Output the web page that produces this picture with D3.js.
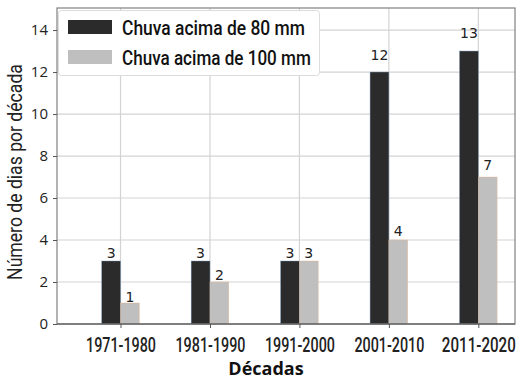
<!DOCTYPE html>
<html><head><meta charset="utf-8">
<script src="https://cdn.jsdelivr.net/npm/d3@7"></script>
<style>body{margin:0;background:#fff;}</style></head>
<body><svg id="c" width="531" height="381"></svg>
<script>
const decades = ["1971-1980","1981-1990","1991-2000","2001-2010","2011-2020"];
const above80 = [3,3,3,12,13];
const above100 = [1,2,3,4,7];
const yTicks = [0,2,4,6,8,10,12,14];
const seriesNames = ["Chuva acima de 80 mm","Chuva acima de 100 mm"];
const colors = ["#2b2b2b","#bfbfbf"];
const edgeColors = ["#7393b3","#e6b48c"];

const svg = d3.select("#c");
const L=57,R=515,T=8,B=324;
const x = d3.scaleLinear().domain([-0.71,4.41]).range([L,R]);
const y = d3.scaleLinear().domain([0,15.05]).range([B,T]);
const bw = 0.21;

// squeeze a text horizontally to a target width (condensed look)
function squeeze(node, target, prefix){
  const w = node.getComputedTextLength();
  const sx = target / w;
  node.setAttribute("transform", (prefix||"") + ` scale(${sx},1)`);
}

// grid
svg.append("g").selectAll("line").data(yTicks).join("line")
  .attr("x1",L).attr("x2",R).attr("y1",d=>y(d)).attr("y2",d=>y(d))
  .attr("stroke","#d3d3d3").attr("stroke-width",1.2);
svg.append("g").selectAll("line").data(decades).join("line")
  .attr("x1",(d,i)=>x(i)).attr("x2",(d,i)=>x(i)).attr("y1",T).attr("y2",B)
  .attr("stroke","#d3d3d3").attr("stroke-width",1.2);

// bars
const series = [above80, above100];
series.forEach((s,k)=>{
  const g = svg.append("g");
  g.selectAll("rect").data(s).join("rect")
    .attr("x",(d,i)=>x(i + (k===0?-bw:0)))
    .attr("width",x(bw)-x(0))
    .attr("y",d=>y(d)).attr("height",d=>B-y(d))
    .attr("fill",colors[k]).attr("stroke",edgeColors[k]).attr("stroke-width",0.5).attr("stroke-opacity",0.8);
  g.selectAll("text").data(s).join("text")
    .attr("x",(d,i)=>x(i + (k===0?-bw/2:bw/2)))
    .attr("y",d=>y(d*1.05)+0.5)
    .attr("text-anchor","middle")
    .attr("font-family","DejaVu Sans, sans-serif")
    .attr("font-size",14).attr("fill","#222")
    .text(d=>d);
});

// frame
svg.append("rect").attr("x",L).attr("y",T).attr("width",R-L).attr("height",B-T)
  .attr("fill","none").attr("stroke","#808080").attr("stroke-width",1.2);
svg.append("line").attr("x1",L).attr("x2",R).attr("y1",B).attr("y2",B).attr("stroke","#555").attr("stroke-width",1.2);

// axes
const yAxis = d3.axisLeft(y).tickValues(yTicks).tickSize(4).tickPadding(5);
const gy = svg.append("g").attr("transform",`translate(${L},0)`).call(yAxis);
gy.select(".domain").remove();
gy.selectAll("line").attr("stroke","#555");
gy.selectAll("text").attr("font-family","Open Sans, sans-serif").attr("font-size",15).attr("fill","#222");

const xAxis = d3.axisBottom(x).tickValues(d3.range(decades.length)).tickFormat(i=>decades[i]).tickSize(4).tickPadding(9);
const gx = svg.append("g").attr("transform",`translate(0,${B})`).call(xAxis);
gx.select(".domain").remove();
gx.selectAll("line").attr("stroke","#555");
gx.selectAll("text").attr("font-family","Roboto, sans-serif").attr("font-size",21).attr("font-weight",500)
  .attr("fill","#222").each(function(d,i){ squeeze(this, i===4?74:70, ""); });

// axis titles
svg.append("text").attr("x",266).attr("y",375).attr("text-anchor","middle")
  .attr("font-family","Open Sans, sans-serif").attr("font-weight","bold").attr("font-size",18).attr("fill","#111")
  .text("Décadas");
svg.append("text").attr("text-anchor","middle")
  .attr("font-family","Roboto, sans-serif").attr("font-size",21).attr("fill","#222")
  .text("Número de dias por década")
  .each(function(){ squeeze(this, 216, "translate(22,172) rotate(-90)"); });

// legend
const lg = svg.append("g");
lg.append("rect").attr("x",58.5).attr("y",10.5).attr("width",261).attr("height",65).attr("rx",3)
  .attr("fill","#fff").attr("stroke","#dcdcdc");
seriesNames.forEach((n,k)=>{
  lg.append("rect").attr("x",68).attr("y",20+k*30).attr("width",44).attr("height",14).attr("fill",colors[k]);
  lg.append("text").attr("font-family","Roboto, sans-serif").attr("font-size",21)
    .attr("font-weight",500).attr("fill","#111").text(n)
    .each(function(){ squeeze(this, k===0?183:189, `translate(122,${35+k*30})`); });
});
</script></body></html>
